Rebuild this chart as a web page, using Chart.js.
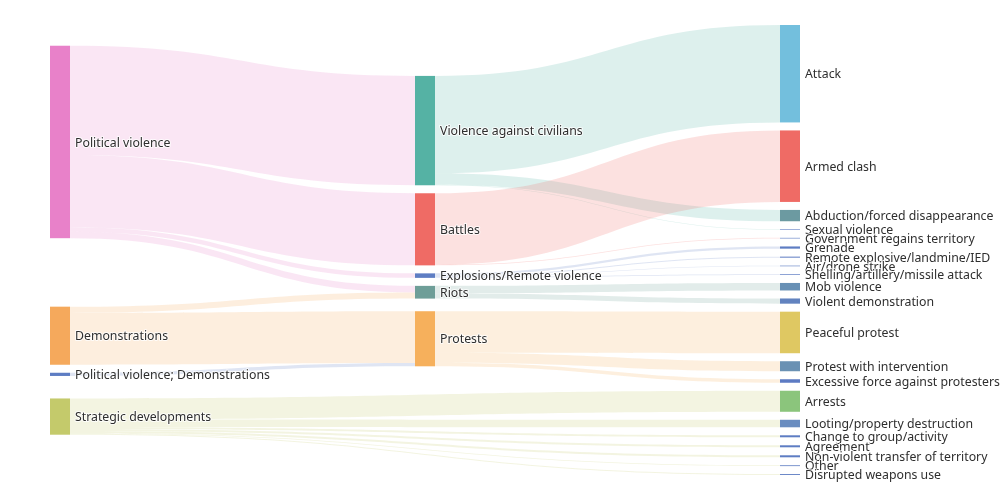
<!DOCTYPE html>
<html><head><meta charset="utf-8">
<script src="https://cdn.jsdelivr.net/npm/chart.js@4.4.1/dist/chart.umd.min.js"></script>
<style>html,body{margin:0;padding:0;background:#fff}#wrap{width:1000px;height:500px;position:relative}</style>
</head><body><div id="wrap"><canvas id="c"></canvas></div>
<script>
// ---------------- data ----------------
const nodeNames = [
  "Political violence", "Demonstrations", "Political violence; Demonstrations", "Strategic developments",
  "Violence against civilians", "Battles", "Explosions/Remote violence", "Riots", "Protests",
  "Attack", "Armed clash", "Abduction/forced disappearance", "Sexual violence", "Government regains territory",
  "Grenade", "Remote explosive/landmine/IED", "Air/drone strike", "Shelling/artillery/missile attack",
  "Mob violence", "Violent demonstration", "Peaceful protest", "Protest with intervention",
  "Excessive force against protesters", "Arrests", "Looting/property destruction", "Change to group/activity",
  "Agreement", "Non-violent transfer of territory", "Other", "Disrupted weapons use"
];
const linkSources = [
  "Political violence", "Political violence", "Political violence", "Political violence",
  "Demonstrations", "Demonstrations", "Political violence; Demonstrations",
  "Violence against civilians", "Violence against civilians", "Violence against civilians",
  "Battles", "Battles",
  "Explosions/Remote violence", "Explosions/Remote violence", "Explosions/Remote violence", "Explosions/Remote violence",
  "Riots", "Riots",
  "Protests", "Protests", "Protests",
  "Strategic developments", "Strategic developments", "Strategic developments", "Strategic developments",
  "Strategic developments", "Strategic developments", "Strategic developments"
];
const linkTargets = [
  "Violence against civilians", "Battles", "Explosions/Remote violence", "Riots",
  "Riots", "Protests", "Protests",
  "Attack", "Abduction/forced disappearance", "Sexual violence",
  "Armed clash", "Government regains territory",
  "Grenade", "Remote explosive/landmine/IED", "Air/drone strike", "Shelling/artillery/missile attack",
  "Mob violence", "Violent demonstration",
  "Peaceful protest", "Protest with intervention", "Excessive force against protesters",
  "Arrests", "Looting/property destruction", "Change to group/activity", "Agreement",
  "Non-violent transfer of territory", "Other", "Disrupted weapons use"
];
const linkValues = [
  1092, 720, 45, 65,
  62, 518, 32,
  973, 113, 6,
  714, 6,
  22, 10, 6, 7,
  75, 52,
  415, 100, 35,
  210, 75, 20, 20, 20, 8, 9
];
const nodeColors = [
  "#e881c9", "#f5a95c", "#5e7dc3", "#c4ca6b",
  "#55b2a4", "#ef6b65", "#5e7dc3", "#6e9e98", "#f6b05c",
  "#73bfdd", "#ef6b65", "#6c9aa1", "#5e7dc3", "#5e7dc3",
  "#5e7dc3", "#5e7dc3", "#5e7dc3", "#5e7dc3",
  "#6890b5", "#6283bf", "#dfc862", "#6a91b3",
  "#5d7bc3", "#8bc57c", "#6a8dc0", "#5e7dc3",
  "#5e7dc3", "#5e7dc3", "#5e7dc3", "#5e7dc3"
];

// ---------------- sankey layout (column / flow units) ----------------
const LAYOUT_W = 750, LAYOUT_H = 450, NODE_W = 20, NODE_GAP = 8, ITER = 32;

function buildSankey() {
  const nodes = nodeNames.map((name, i) => ({ name, index: i, inEdges: [], outEdges: [] }));
  const edges = linkValues.map((v, i) => {
    const e = { node1: nodes[nodeNames.indexOf(linkSources[i])], node2: nodes[nodeNames.indexOf(linkTargets[i])], value: v };
    e.node1.outEdges.push(e); e.node2.inEdges.push(e);
    return e;
  });
  const sumV = arr => arr.reduce((s, e) => s + e.value, 0);
  nodes.forEach(n => { n.value = Math.max(sumV(n.outEdges), sumV(n.inEdges)); });
  const indeg = nodes.map(n => n.inEdges.length);
  let zero = nodes.filter(n => n.inEdges.length === 0);
  let x = 0;
  while (zero.length) {
    const next = [];
    zero.forEach(n => {
      n.depth = x;
      n.outEdges.forEach(e => {
        const t = e.node2;
        if (--indeg[t.index] === 0 && next.indexOf(t) < 0) next.push(t);
      });
    });
    x++; zero = next;
  }
  const maxDepth = x - 1;
  nodes.forEach(n => { if (!n.outEdges.length) n.depth = maxDepth; });
  const kx = (LAYOUT_W - NODE_W) / maxDepth;
  nodes.forEach(n => { n.x = n.depth * kx; n.dx = NODE_W; });
  const keys = [];
  nodes.forEach(n => { if (keys.indexOf(n.x) < 0) keys.push(n.x); });
  keys.sort((a, b) => a - b);
  const cols = keys.map(k => nodes.filter(n => n.x === k));
  let ky = Infinity;
  cols.forEach(c => {
    const s = c.reduce((a, n) => a + n.value, 0);
    const k = (LAYOUT_H - (c.length - 1) * NODE_GAP) / s;
    if (k < ky) ky = k;
  });
  cols.forEach(c => c.forEach((n, i) => { n.y = i; n.dy = n.value * ky; }));
  edges.forEach(e => { e.dy = e.value * ky; });
  const center = n => n.y + n.dy / 2;
  function resolve() {
    cols.forEach(c => {
      c.sort((a, b) => a.y - b.y);
      let y0 = 0, node, dy;
      const n = c.length;
      for (let i = 0; i < n; i++) {
        node = c[i];
        dy = y0 - node.y;
        if (dy > 0) node.y += dy;
        y0 = node.y + node.dy + NODE_GAP;
      }
      dy = y0 - NODE_GAP - LAYOUT_H;
      if (dy > 0) {
        node.y -= dy;
        y0 = node.y;
        for (let i = n - 2; i >= 0; --i) {
          node = c[i];
          dy = node.y + node.dy + NODE_GAP - y0;
          if (dy > 0) node.y -= dy;
          y0 = node.y;
        }
      }
    });
  }
  function relaxRL(alpha) {
    cols.slice().reverse().forEach(c => c.forEach(n => {
      if (n.outEdges.length) {
        const y = n.outEdges.reduce((s, e) => s + center(e.node2) * e.value, 0) / sumV(n.outEdges);
        n.y += (y - center(n)) * alpha;
      }
    }));
  }
  function relaxLR(alpha) {
    cols.forEach(c => c.forEach(n => {
      if (n.inEdges.length) {
        const y = n.inEdges.reduce((s, e) => s + center(e.node1) * e.value, 0) / sumV(n.inEdges);
        n.y += (y - center(n)) * alpha;
      }
    }));
  }
  resolve();
  let alpha = 1;
  for (let it = ITER; it > 0; it--) {
    alpha *= 0.99;
    relaxRL(alpha); resolve();
    relaxLR(alpha); resolve();
  }
  nodes.forEach(n => {
    n.outEdges.sort((a, b) => a.node2.y - b.node2.y);
    n.inEdges.sort((a, b) => a.node1.y - b.node1.y);
  });
  nodes.forEach(n => {
    let sy = 0, ty = 0;
    n.outEdges.forEach(e => { e.sy = sy; sy += e.dy; });
    n.inEdges.forEach(e => { e.ty = ty; ty += e.dy; });
  });
  return { nodes, edges };
}

const graph = buildSankey();

function hexA(hex, a) {
  const r = parseInt(hex.slice(1, 3), 16), g = parseInt(hex.slice(3, 5), 16), b = parseInt(hex.slice(5, 7), 16);
  return `rgba(${r},${g},${b},${a})`;
}

const sankeyPlugin = {
  id: 'sankeyDraw',
  afterDatasetsDraw(chart) {
    const ctx = chart.ctx, xs = chart.scales.x, ys = chart.scales.y;
    const X = v => xs.getPixelForValue(v), Y = v => ys.getPixelForValue(v);
    ctx.save();
    graph.edges.forEach(e => {
      const n1 = e.node1, n2 = e.node2;
      const x1 = X(n1.x + n1.dx), x2 = X(n2.x);
      const y1 = Y(n1.y + e.sy), y2 = Y(n2.y + e.ty);
      const ext = Y(n1.y + e.sy + e.dy) - y1;
      const cpx = x1 * 0.5 + x2 * 0.5;
      ctx.beginPath();
      ctx.moveTo(x1, y1);
      ctx.bezierCurveTo(cpx, y1, cpx, y2, x2, y2);
      ctx.lineTo(x2, y2 + ext);
      ctx.bezierCurveTo(cpx, y2 + ext, cpx, y1 + ext, x1, y1 + ext);
      ctx.closePath();
      ctx.fillStyle = hexA(nodeColors[n1.index], 0.2);
      ctx.fill();
    });
    graph.nodes.forEach(n => {
      const x0 = X(n.x), x1 = X(n.x + n.dx), y0 = Y(n.y), y1 = Y(n.y + n.dy);
      ctx.fillStyle = nodeColors[n.index];
      ctx.fillRect(x0, y0, x1 - x0, y1 - y0);
    });
    ctx.font = '12.3px "Noto Sans", sans-serif';
    ctx.textBaseline = 'middle';
    ctx.textAlign = 'left';
    ctx.lineJoin = 'round';
    graph.nodes.forEach(n => {
      const tx = X(n.x + n.dx) + 5, ty = (Y(n.y) + Y(n.y + n.dy)) / 2 + 1.2;
      ctx.lineWidth = 2;
      ctx.strokeStyle = 'rgba(255,255,255,0.8)';
      ctx.strokeText(n.name, tx, ty);
      ctx.fillStyle = '#2e2e2e';
      ctx.fillText(n.name, tx, ty);
    });
    ctx.restore();
  }
};

new Chart(document.getElementById('c'), {
  type: 'scatter',
  data: { datasets: [{ data: [], pointRadius: 0 }] },
  options: {
    responsive: true,
    maintainAspectRatio: false,
    animation: false,
    layout: { padding: { left: 50, right: 200, top: 25, bottom: 25 } },
    scales: {
      x: { type: 'linear', min: 0, max: LAYOUT_W, display: false },
      y: { type: 'linear', min: 0, max: LAYOUT_H, reverse: true, display: false }
    },
    plugins: { legend: { display: false }, tooltip: { enabled: false } }
  },
  plugins: [sankeyPlugin]
});
</script>
</body></html>
